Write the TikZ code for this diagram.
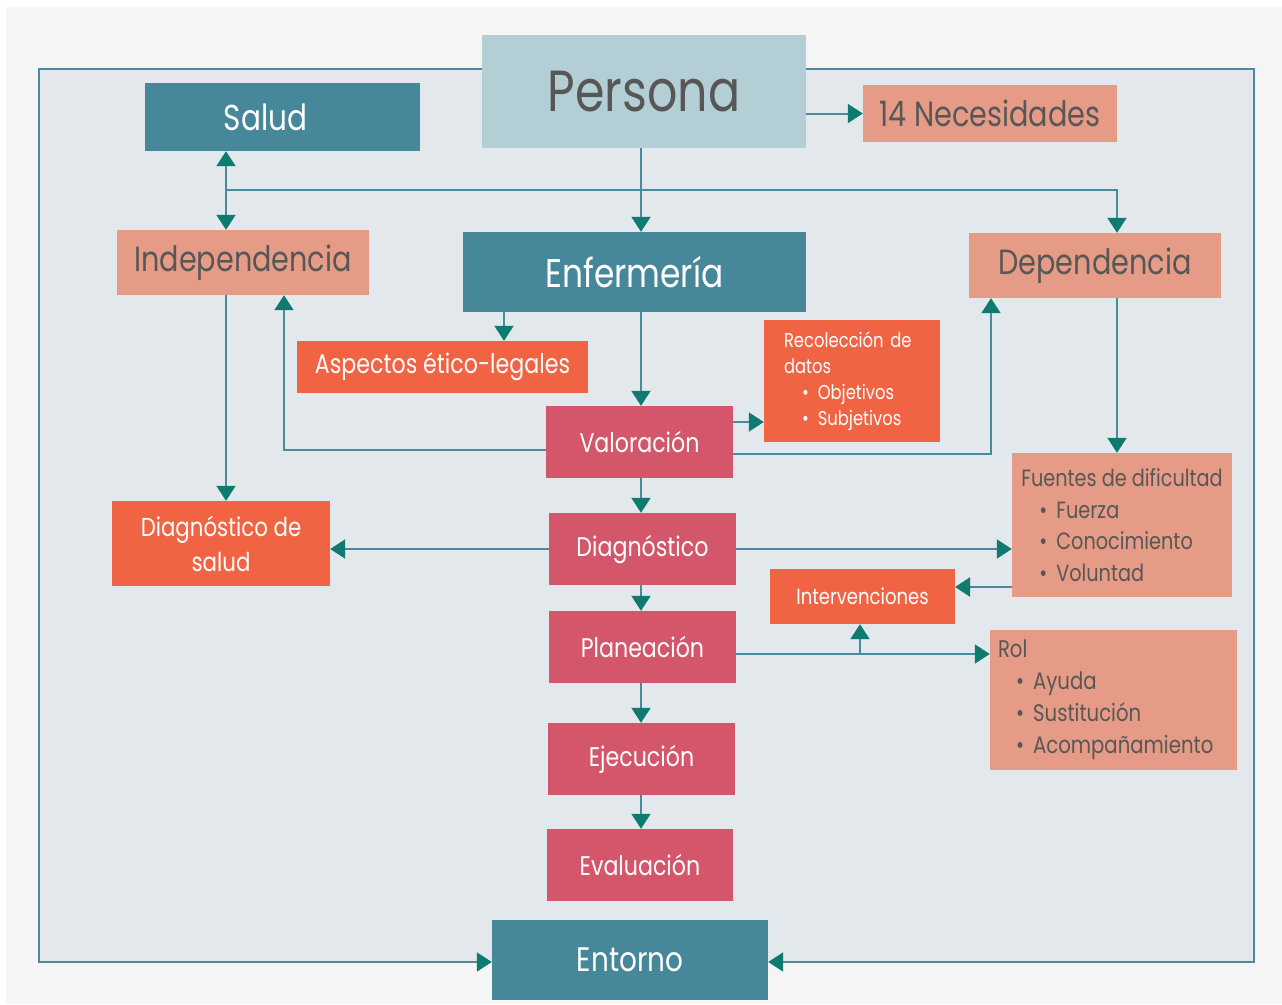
\documentclass[tikz,border=0pt]{standalone}
\usepackage{fontspec}
\setmainfont[FakeStretch=0.82]{Poppins}
\usetikzlibrary{arrows.meta}
\definecolor{outerbg}{HTML}{F6F5F6}
\definecolor{framebg}{HTML}{E2E8EB}
\definecolor{linec}{HTML}{4B8A9C}
\definecolor{arrowc}{HTML}{0E7A70}
\definecolor{darkblue}{HTML}{468799}
\definecolor{lightblue}{HTML}{B3CED5}
\definecolor{salmon}{HTML}{E69B86}
\definecolor{orangec}{HTML}{F06443}
\definecolor{pinkc}{HTML}{D4566A}
\definecolor{darktext}{HTML}{575757}
\tikzset{
  box/.style={inner sep=0pt, align=center},
  bluebox/.style={box, fill=darkblue, text=white},
  salbox/.style={box, fill=salmon, text=darktext},
  orbox/.style={box, fill=orangec, text=white},
  pinkbox/.style={box, fill=pinkc, text=white},
  conn/.style={draw=linec, line width=2pt},
  tip/.style={-{Triangle[width=19pt,length=15pt,color=arrowc]}},
  tiptwo/.style={{Triangle[width=19pt,length=15pt,color=arrowc]}-{Triangle[width=19pt,length=15pt,color=arrowc]}},
}
\newcommand{\fs}[2]{\fontsize{#1}{#2}\selectfont\hyphenpenalty=10000\exhyphenpenalty=10000}
\newcommand{\itm}[1]{\hspace*{18pt}\textbullet\hspace{9pt}#1}
\begin{document}
\begin{tikzpicture}[x=1pt,y=-1pt]
\useasboundingbox (0,0) rectangle (1282,1004);
\fill[white] (0,0) rectangle (1282,1004);
\fill[outerbg] (6,7) rectangle (1282,1004);
\fill[framebg] (39,69) rectangle (1254,962);

% nodes
\node[box, fill=lightblue, text=darktext, minimum width=324pt, minimum height=113pt, font=\fs{58}{60}] (persona) at (644,91.5) {Persona};
\node[bluebox, minimum width=275pt, minimum height=68pt, font=\fs{36}{40}] (salud) at (282.5,117) {\hspace*{-34pt}Salud};
\node[salbox, minimum width=254pt, minimum height=57pt, font=\fs{35}{40}] (nec) at (990,113.5) {14 Necesidades};
\node[salbox, minimum width=252pt, minimum height=65pt, font=\fs{35}{40}] (indep) at (243,262.5) {Independencia};
\node[bluebox, minimum width=343pt, minimum height=80pt, font=\fs{40}{44}] (enf) at (634.5,272) {Enfermería};
\node[salbox, minimum width=252pt, minimum height=65pt, font=\fs{35}{40}] (dep) at (1095,265.5) {Dependencia};
\node[orbox, minimum width=291pt, minimum height=52pt, font=\fs{27}{30}] (asp) at (442.5,367) {Aspectos ético-legales};
\node[orbox, minimum width=176pt, minimum height=122pt, inner xsep=20pt, text width=136pt, align=left, font=\fs{20}{26}] (rec) at (852,381)
  {Recolección de datos\\ \itm{Objetivos}\\ \itm{Subjetivos}};
\node[pinkbox, minimum width=187pt, minimum height=72pt, font=\fs{27}{30}] (val) at (639.5,442) {Valoración};
\node[salbox, minimum width=220pt, minimum height=144pt, align=left, font=\fs{23.5}{31.5}] (fuentes) at (1122,525)
  {Fuentes de dificultad\\ \itm{Fuerza}\\ \itm{Conocimiento}\\ \itm{Voluntad}};
\node[orbox, minimum width=218pt, minimum height=85pt, font=\fs{26}{35}] (dxs) at (221,543.5) {Diagnóstico de\\salud};
\node[pinkbox, minimum width=187pt, minimum height=72pt, font=\fs{27}{30}] (dx) at (642.5,549) {Diagnóstico};
\node[orbox, minimum width=185pt, minimum height=55pt, font=\fs{22}{26}] (int) at (862.5,596.5) {Intervenciones};
\node[pinkbox, minimum width=187pt, minimum height=72pt, font=\fs{27}{30}] (plan) at (642.5,647) {Planeación};
\node[salbox, minimum width=247pt, minimum height=140pt, inner xsep=8pt, text width=231pt, align=left, font=\fs{24}{32}] (rol) at (1113.5,700)
  {Rol\\ \itm{Ayuda}\\ \itm{Sustitución}\\ \itm{Acompañamiento}};
\node[pinkbox, minimum width=187pt, minimum height=72pt, font=\fs{27}{30}] (ej) at (641.5,759) {Ejecución};
\node[pinkbox, minimum width=186pt, minimum height=72pt, font=\fs{27}{30}] (ev) at (640,865) {Evaluación};
\node[bluebox, minimum width=276pt, minimum height=80pt, font=\fs{34}{38}] (ent) at (630,960) {Entorno};

% helper coordinates
\coordinate (sp) at (641,0);
\coordinate (c1) at (226,190);
\coordinate (c2) at (1117,190);
\coordinate (c3) at (284,450);
\coordinate (c4) at (991,454);
\coordinate (c5) at (955,587);
\coordinate (c6) at (860,654);
\coordinate (c7) at (504,330);
\coordinate (ftl) at (39,69);
\coordinate (ftr) at (1254,69);
\coordinate (fbl) at (39,962);
\coordinate (fbr) at (1254,962);

% frame connectors
\draw[conn,tip] (ftl -| persona.west) -- (ftl) -- (fbl) -- (fbl -| ent.west);
\draw[conn,tip] (ftr -| persona.east) -- (ftr) -- (fbr) -- (fbr -| ent.east);

% connectors
\draw[conn,tiptwo] (c1 |- salud.south) -- (c1 |- indep.north);
\draw[conn,tip] (c1) -- (c2) -- (c2 |- dep.north);
\draw[conn,tip] (sp |- persona.south) -- (sp |- enf.north);
\draw[conn,tip] (persona.east |- nec.west) -- (nec.west);
\draw[conn,tip] (c7 |- enf.south) -- (c7 |- asp.north);
\draw[conn,tip] (sp |- enf.south) -- (sp |- val.north);
\draw[conn,tip] ([yshift=20pt]val.east) -- ([yshift=20pt]val.east -| rec.west);
\draw[conn,tip] ([yshift=-8pt]val.west) -- (c3) -- (c3 |- indep.south);
\draw[conn,tip] ([yshift=-12pt]val.east) -- (c4) -- (c4 |- dep.south);
\draw[conn,tip] (c2 |- dep.south) -- (c2 |- fuentes.north);
\draw[conn,tip] (c1 |- indep.south) -- (c1 |- dxs.north);
\draw[conn,tip] (sp |- val.south) -- (sp |- dx.north);
\draw[conn,tip] (dx.west) -- (dxs.east |- dx.west);
\draw[conn,tip] (dx.east) -- (fuentes.west |- dx.east);
\draw[conn,tip] (c5 -| fuentes.west) -- (c5);
\draw[conn,tip] (sp |- dx.south) -- (sp |- plan.north);
\draw[conn,tip] (c6 -| plan.east) -- (c6 -| rol.west);
\draw[conn,tip] (c6) -- (c6 |- int.south);
\draw[conn,tip] (sp |- plan.south) -- (sp |- ej.north);
\draw[conn,tip] (sp |- ej.south) -- (sp |- ev.north);
\end{tikzpicture}
\end{document}
